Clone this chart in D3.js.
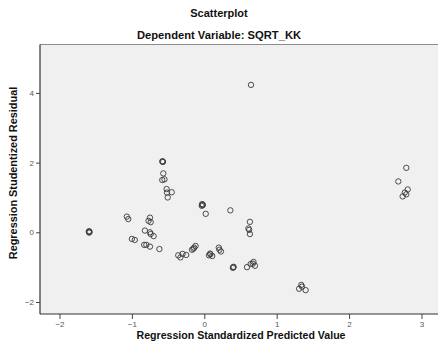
<!DOCTYPE html>
<html><head><meta charset="utf-8">
<script src="https://cdn.jsdelivr.net/npm/d3@7"></script>
<style>body{margin:0;background:#fff;}svg{display:block;font-family:"Liberation Sans",Arial,sans-serif;}</style>
</head><body>
<script>
const title = "Scatterplot";
const subtitle = "Dependent Variable: SQRT_KK";
const xTitle = "Regression Standardized Predicted Value";
const yTitle = "Regression Studentized Residual";
const xTicks = [-2, -1, 0, 1, 2, 3];
const yTicks = [-2, 0, 2, 4];
const predicted = [
  -0.576,-0.57,-0.58, -0.566, -0.58,-0.55, -0.52, -0.515, -0.45, -0.505,
  -0.03,-0.025,-0.035,-0.02, 0.02,
  -1.07,-1.05, -0.75,-0.77,-0.74,
  -1.59,-1.585,-1.595,-1.59,
  -0.82, -0.75,-0.74,-0.70, -1.0,-0.96,
  -0.83,-0.80,-0.75, -0.62,
  -0.36,-0.33,-0.30,-0.25,
  -0.14,-0.12,-0.17,-0.15,
  0.08,0.11,0.065,0.085,
  0.36, 0.63, 0.61,0.62, 0.63,
  0.20,0.23,0.21,
  0.40,0.395,0.405,
  0.59,0.64,0.68,0.70,0.67,
  1.34,1.31,1.40,1.35,
  0.645,
  2.79,2.68,2.81,2.77,2.74,2.79
];
const residual = [
  2.04,2.02,2.03, 1.69, 1.50,1.52, 1.24, 1.14, 1.15, 1.00,
  0.81,0.78,0.76,0.79, 0.53,
  0.45,0.38, 0.42,0.33,0.29,
  0.03,0.01,0.02,-0.01,
  0.05, 0.0,-0.05,-0.11, -0.19,-0.22,
  -0.36,-0.36,-0.41, -0.48,
  -0.66,-0.72,-0.62,-0.65,
  -0.44,-0.39,-0.50,-0.47,
  -0.61,-0.68,-0.66,-0.63,
  0.63, 0.30, 0.11,0.07, -0.05,
  -0.44,-0.55,-0.50,
  -1.00,-1.02,-0.99,
  -1.0,-0.91,-0.85,-0.96,-0.90,
  -1.51,-1.62,-1.66,-1.56,
  4.23,
  1.85,1.46,1.23,1.14,1.03,1.09
];

const W = 438, H = 349;
const L = 40, R = 438, T = 44.5, B = 314;
const svg = d3.select("body").append("svg").attr("width", W).attr("height", H);
const x = d3.scaleLinear().domain([-2.269, 3.228]).range([L, R]);
const y = d3.scaleLinear().domain([-2.344, 5.389]).range([B, T]);

svg.append("rect").attr("x", L).attr("y", T).attr("width", R - L).attr("height", B - T).attr("fill", "#f0f0f0");
svg.append("line").attr("x1", L).attr("x2", R).attr("y1", T).attr("y2", T).attr("stroke", "#8c8c8c").attr("stroke-width", 1.2);

const gx = svg.append("g").attr("transform", `translate(0,${B})`)
  .call(d3.axisBottom(x).tickValues(xTicks).tickSize(5).tickPadding(2).tickFormat(d3.format("d")));
const gy = svg.append("g").attr("transform", `translate(${L},0)`)
  .call(d3.axisLeft(y).tickValues(yTicks).tickSize(4).tickPadding(2).tickFormat(d3.format("d")));
[gx, gy].forEach(g => {
  g.select(".domain").attr("stroke", "#333").attr("stroke-width", 1.2);
  g.selectAll(".tick line").attr("stroke", "#444");
  g.selectAll(".tick text").attr("fill", "#555").attr("font-size", 8).attr("font-family", "Liberation Sans, Arial, sans-serif");
});
gy.select(".domain").attr("d", `M0,${T}V${B}`);
gx.select(".domain").attr("d", `M${L},0H${R}`);

const pts = predicted.map((p, i) => ({p, r: residual[i]}));
svg.append("g").selectAll("circle").data(pts).join("circle")
  .attr("cx", d => x(d.p)).attr("cy", d => y(d.r)).attr("r", 2.7)
  .attr("fill", "none").attr("stroke", "#3a3a3a").attr("stroke-width", 0.9);

svg.append("text").attr("x", 219).attr("y", 17).attr("text-anchor", "middle")
  .attr("font-size", 11).attr("font-weight", "bold").attr("fill", "#111").text(title);
svg.append("text").attr("x", 219).attr("y", 39).attr("text-anchor", "middle")
  .attr("font-size", 11.2).attr("font-weight", "bold").attr("fill", "#111").text(subtitle);
svg.append("text").attr("x", 241).attr("y", 339).attr("text-anchor", "middle")
  .attr("font-size", 10.6).attr("font-weight", "bold").attr("fill", "#111").text(xTitle);
svg.append("text").attr("transform", "translate(17,173) rotate(-90)").attr("text-anchor", "middle")
  .attr("font-size", 10.9).attr("font-weight", "bold").attr("fill", "#111").text(yTitle);
</script>
</body></html>
